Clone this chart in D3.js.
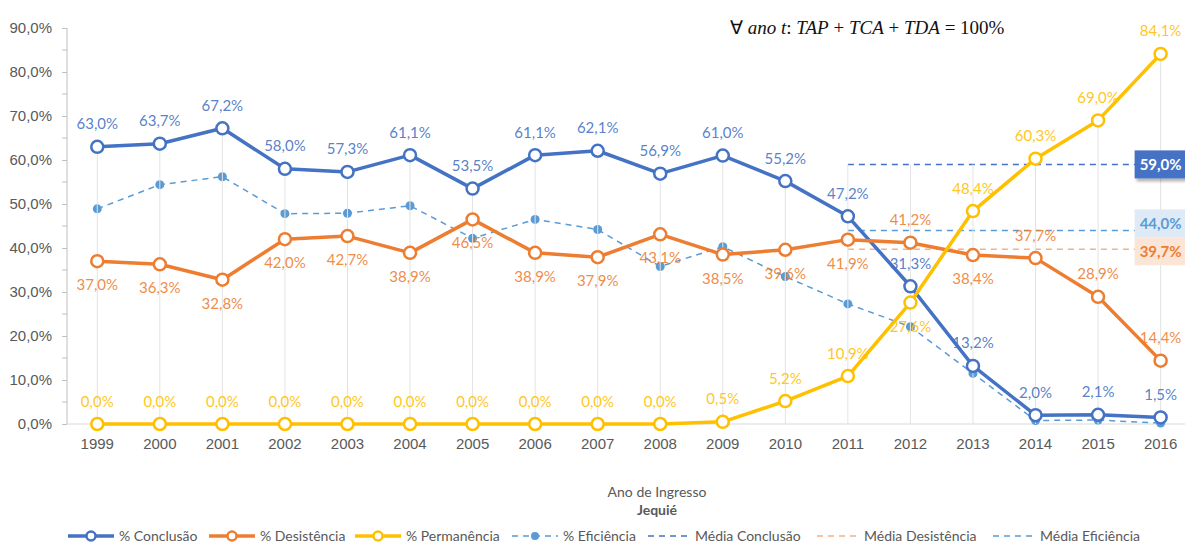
<!DOCTYPE html>
<html>
<head>
<meta charset="utf-8">
<script src="https://cdn.jsdelivr.net/npm/d3@7"></script>
<style>
  body { margin: 0; background: #fff; }
  svg { display: block; font-family: Lato, "Open Sans", sans-serif; }
</style>
</head>
<body>
<figure id="chart" style="margin:0"></figure>
<script>
// dados
const anos = ["1999", "2000", "2001", "2002", "2003", "2004", "2005", "2006", "2007",
  "2008", "2009", "2010", "2011", "2012", "2013", "2014", "2015", "2016"];
const conclusao = [63.0, 63.7, 67.2, 58.0, 57.3, 61.1, 53.5, 61.1, 62.1, 56.9, 61.0, 55.2, 47.2, 31.3, 13.2, 2.0, 2.1, 1.5];
const desistencia = [37.0, 36.3, 32.8, 42.0, 42.7, 38.9, 46.5, 38.9, 37.9, 43.1, 38.5, 39.6, 41.9, 41.2, 38.4, 37.7, 28.9, 14.4];
const permanencia = [0.0, 0.0, 0.0, 0.0, 0.0, 0.0, 0.0, 0.0, 0.0, 0.0, 0.5, 5.2, 10.9, 27.6, 48.4, 60.3, 69.0, 84.1];
const eficiencia = [48.9, 54.4, 56.2, 47.8, 47.9, 49.6, 42.2, 46.5, 44.2, 35.8, 40.3, 33.5, 27.3, 22.1, 11.5, 0.8, 0.9, 0.2];
const anosMedia = ["2011", "2012", "2013", "2014", "2015", "2016"];
const mediaConclusao = [59.0, 59.0, 59.0, 59.0, 59.0, 59.0];
const mediaDesistencia = [39.7, 39.7, 39.7, 39.7, 39.7, 39.7];
const mediaEficiencia = [44.0, 44.0, 44.0, 44.0, 44.0, 44.0];
const yTicks = [0, 10, 20, 30, 40, 50, 60, 70, 80, 90];

const width = 1185, height = 545;
const cAzul = "#4472c4", cLaranja = "#ed7d31", cAmarelo = "#ffc000", cAzulClaro = "#5b9bd5", cLaranjaClaro = "#f4b183";
const fmt = v => v.toFixed(1).replace(".", ",") + "%";

const svg = d3.select("#chart").append("svg")
  .attr("width", width).attr("height", height);

const x = d3.scaleBand().domain(anos).range([66, 66 + 18 * 62.55]).padding(0);
const cx = d => x(d) + x.bandwidth() / 2;
const y = d3.scaleLinear().domain([0, 90]).range([424, 28]);

// eixo Y
const yAxis = svg.append("g").attr("transform", "translate(67,0)")
  .call(d3.axisLeft(y).tickValues(yTicks).tickSize(5).tickPadding(10)
    .tickFormat(d => d.toFixed(1).replace(".", ",") + "%"));
yAxis.select(".domain").attr("stroke", "#bfbfbf").attr("d", "M0,28V424");
yAxis.selectAll(".tick line").attr("stroke", "#bfbfbf");
yAxis.selectAll("text").attr("fill", "#595959").style("font-size", "15px");
// ticks menores
svg.append("g").selectAll("line").data(d3.range(5, 90, 10)).enter().append("line")
  .attr("x1", 62).attr("x2", 67).attr("y1", d => y(d)).attr("y2", d => y(d))
  .attr("stroke", "#bfbfbf");

// eixo X
const xAxis = svg.append("g").attr("transform", "translate(0,424)")
  .call(d3.axisBottom(x).tickSize(0).tickPadding(14));
xAxis.select(".domain").attr("stroke", "#d9d9d9").attr("d", "M67,0H1185");
xAxis.selectAll("text").attr("fill", "#595959").style("font-size", "15px");

// linhas de queda (do maior valor até o eixo)
const maxPorAno = anos.map((a, i) => {
  const j = anosMedia.indexOf(a);
  const vals = [conclusao[i], desistencia[i], permanencia[i], eficiencia[i]];
  if (j >= 0) vals.push(mediaConclusao[j], mediaDesistencia[j], mediaEficiencia[j]);
  return Math.max(...vals);
});

const line = d3.line().x(d => cx(d.a)).y(d => y(d.v));
const pts = (arr, cats) => arr.map((v, i) => ({a: cats[i], v: v}));

// médias
[[mediaConclusao, cAzul], [mediaDesistencia, cLaranjaClaro], [mediaEficiencia, cAzulClaro]].forEach(([arr, c]) => {
  svg.append("path").datum(pts(arr, anosMedia)).attr("d", line)
    .attr("fill", "none").attr("stroke", c).attr("stroke-width", 1.5).attr("stroke-dasharray", "6,5");
});

// eficiência
svg.append("path").datum(pts(eficiencia, anos)).attr("d", line)
  .attr("fill", "none").attr("stroke", cAzulClaro).attr("stroke-width", 1.5).attr("stroke-dasharray", "6,5");
svg.append("g").selectAll("circle").data(pts(eficiencia, anos)).enter().append("circle")
  .attr("cx", d => cx(d.a)).attr("cy", d => y(d.v)).attr("r", 4.5).attr("fill", cAzulClaro);

svg.append("g").selectAll("line").data(anos).enter().append("line")
  .attr("x1", d => cx(d)).attr("x2", d => cx(d))
  .attr("y1", (d, i) => y(maxPorAno[i])).attr("y2", 424)
  .attr("stroke", "#e3e3e3").attr("stroke-width", 1);

// séries principais
const series = [
  {vals: conclusao, c: cAzul, abaixo: []},
  {vals: desistencia, c: cLaranja, abaixo: anos.filter(a => !["2012", "2014", "2015", "2016"].includes(a))},
  {vals: permanencia, c: cAmarelo, abaixo: ["2012"]}
];
series.forEach(s => {
  const data = pts(s.vals, anos);
  svg.append("path").datum(data).attr("d", line)
    .attr("fill", "none").attr("stroke", s.c).attr("stroke-width", 3.5).attr("stroke-linejoin", "round");
});
series.forEach(s => {
  const data = pts(s.vals, anos);
  svg.append("g").selectAll("circle").data(data).enter().append("circle")
    .attr("cx", d => cx(d.a)).attr("cy", d => y(d.v)).attr("r", 6)
    .attr("fill", "#fff").attr("stroke", s.c).attr("stroke-width", 2.5);
});
series.forEach(s => {
  const data = pts(s.vals, anos);
  svg.append("g").selectAll("text").data(data).enter().append("text")
    .attr("x", d => cx(d.a))
    .attr("y", d => s.abaixo.includes(d.a) ? y(d.v) + 29 : y(d.v) - 17.5)
    .attr("text-anchor", "middle").attr("fill", s.c).attr("fill-opacity", 0.9)
    .style("font-size", "15px").text(d => fmt(d.v));
});

// rótulos das médias
const rotMedia = [
  {v: mediaConclusao[5], fill: cAzul, txt: "#fff", dy: 0},
  {v: mediaEficiencia[5], fill: "#deebf7", txt: cAzulClaro, dy: -7},
  {v: mediaDesistencia[5], fill: "#fbe5d6", txt: cLaranja, dy: 2}
];
const defs = svg.append("defs");
defs.append("filter").attr("id", "sombra").attr("x", "-20%").attr("y", "-20%").attr("width", "150%").attr("height", "160%")
  .append("feDropShadow").attr("dx", 2).attr("dy", 3).attr("stdDeviation", 1.5).attr("flood-color", "#000").attr("flood-opacity", 0.3);
rotMedia.forEach(r => {
  const xc = cx(anosMedia[5]), yc = y(r.v) + r.dy;
  const g = svg.append("g");
  g.append("rect").attr("x", xc - 26).attr("y", yc - 14).attr("width", 52).attr("height", 28)
    .attr("fill", r.fill).attr("filter", r.fill === cAzul ? "url(#sombra)" : null);
  g.append("text").attr("x", xc).attr("y", yc + 5.5).attr("text-anchor", "middle")
    .attr("fill", r.txt).style("font-size", "15px").style("font-weight", "bold").text(fmt(r.v));
});

// fórmula
const f = svg.append("text").attr("x", 730).attr("y", 34)
  .style("font-family", "'Liberation Serif', serif").style("font-size", "19px").attr("fill", "#111");
[["∀ ", false], ["ano t", true], [": ", false], ["TAP", true], [" + ", false], ["TCA", true],
  [" + ", false], ["TDA", true], [" = 100%", false]].forEach(([t, it]) => {
  f.append("tspan").style("font-style", it ? "italic" : "normal").text(t);
});

// título do eixo
svg.append("text").attr("x", 657).attr("y", 497).attr("text-anchor", "middle")
  .attr("fill", "#595959").style("font-size", "14px").text("Ano de Ingresso");
svg.append("text").attr("x", 657).attr("y", 515).attr("text-anchor", "middle")
  .attr("fill", "#595959").style("font-size", "14px").style("font-weight", "bold").text("Jequié");

// legenda
const legenda = [
  {nome: "% Conclusão", c: cAzul, x: 68, tipo: "principal"},
  {nome: "% Desistência", c: cLaranja, x: 209, tipo: "principal"},
  {nome: "% Permanência", c: cAmarelo, x: 355, tipo: "principal"},
  {nome: "% Eficiência", c: cAzulClaro, x: 512, tipo: "ef"},
  {nome: "Média Conclusão", c: cAzul, x: 648, tipo: "media"},
  {nome: "Média Desistência", c: cLaranjaClaro, x: 817, tipo: "media"},
  {nome: "Média Eficiência", c: cAzulClaro, x: 993, tipo: "media"}
];
const ly = 536;
legenda.forEach(l => {
  const g = svg.append("g");
  const w = l.tipo === "media" ? 42 : 46;
  g.append("line").attr("x1", l.x).attr("x2", l.x + w).attr("y1", ly).attr("y2", ly)
    .attr("stroke", l.c).attr("stroke-width", l.tipo === "principal" ? 3.5 : 1.5)
    .attr("stroke-dasharray", l.tipo === "principal" ? null : "6,5");
  if (l.tipo === "principal") {
    g.append("circle").attr("cx", l.x + w / 2).attr("cy", ly).attr("r", 4.5)
      .attr("fill", "#fff").attr("stroke", l.c).attr("stroke-width", 2.5);
  } else if (l.tipo === "ef") {
    g.append("circle").attr("cx", l.x + w / 2).attr("cy", ly).attr("r", 4).attr("fill", l.c);
  }
  g.append("text").attr("x", l.x + w + 5).attr("y", ly + 5).attr("fill", "#595959")
    .style("font-size", "14px").text(l.nome);
});
</script>
</body>
</html>
